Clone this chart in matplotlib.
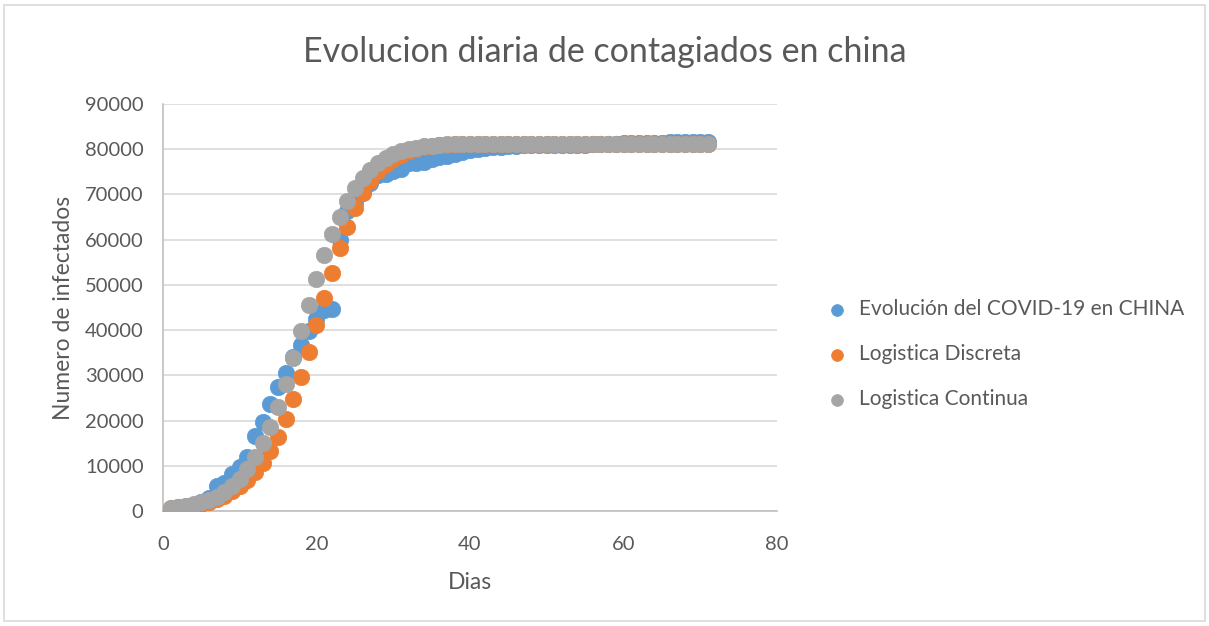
import matplotlib
matplotlib.use("Agg")
import matplotlib.pyplot as plt
from matplotlib.patches import Rectangle

plt.rcParams['font.family'] = ['Lato', 'DejaVu Sans']

dias = list(range(1, 72))

# datos reales China (casos acumulados)
china = [548, 643, 920, 1406, 2075, 2877, 5509, 6087, 8141, 9802,
         11891, 16630, 19716, 23707, 27440, 30587, 34110, 36814, 39829, 42354,
         44386, 44759, 59895, 66358, 68413, 70513, 72434, 74211, 74619, 75077,
         75550, 77001, 77022, 77241, 77754, 78166, 78600, 78928, 79356, 79932,
         80136, 80261, 80386, 80537, 80690, 80770, 80823, 80860, 80887, 80921,
         80932, 80945, 80977, 81003, 81033, 81058, 81102, 81156, 81250, 81300,
         81350, 81390, 81420, 81450, 81470, 81490, 81505, 81520, 81535, 81545, 81555]

# logistica discreta
discreta = [630, 800, 1000, 1300, 1650, 2100, 2700, 3400, 4350, 5500,
            6900, 8600, 10700, 13300, 16400, 20300, 24700, 29700, 35200, 41100,
            47000, 52700, 58100, 62900, 66900, 70300, 73000, 75100, 76700, 77900,
            78800, 79500, 80000, 80400, 80650, 80850, 81000, 81100, 81150, 81180,
            81190, 81200, 81200, 81200, 81200, 81200, 81200, 81200, 81200, 81200,
            81200, 81200, 81200, 81200, 81200, 81200, 81200, 81200, 81200, 81200,
            81200, 81200, 81200, 81200, 81200, 81200, 81200, 81200, 81200, 81200, 81200]

# logistica continua
continua = [650, 850, 1100, 1450, 1900, 2500, 3200, 4200, 5500, 7100,
            9200, 11900, 15000, 18600, 23100, 28100, 33800, 39700, 45600, 51200,
            56500, 61200, 65100, 68600, 71400, 73600, 75500, 77000, 78100, 78900,
            79500, 80000, 80350, 80600, 80800, 80950, 81050, 81100, 81150, 81180,
            81190, 81200, 81200, 81200, 81200, 81200, 81200, 81200, 81200, 81200,
            81200, 81200, 81200, 81200, 81200, 81200, 81200, 81200, 81200, 81200,
            81200, 81200, 81200, 81200, 81200, 81200, 81200, 81200, 81200, 81200, 81200]

azul = '#5B9BD5'
naranja = '#ED7D31'
gris = '#A5A5A5'
texto = '#595959'

fig = plt.figure(figsize=(12.09, 6.26), dpi=100)
ax = fig.add_axes([0.1348, 0.1837, 0.5079, 0.6502])

ax.scatter(dias, china, s=140, color=azul, edgecolors=azul, linewidths=0.5,
           label='Evolución del COVID-19 en CHINA', zorder=3)
ax.scatter(dias, discreta, s=140, color=naranja, edgecolors=naranja, linewidths=0.5,
           label='Logistica Discreta', zorder=4)
ax.scatter(dias, continua, s=140, color=gris, edgecolors=gris, linewidths=0.5,
           label='Logistica Continua', zorder=5)

ax.set_xlim(0, 80)
ax.set_ylim(0, 90000)
ax.set_xticks([0, 20, 40, 60, 80])
ax.set_yticks(range(0, 90001, 10000))
ax.grid(axis='y', color='#D9D9D9', linewidth=1.2)
ax.set_axisbelow(True)
for s in ['top', 'right']:
    ax.spines[s].set_visible(False)
for s in ['left', 'bottom']:
    ax.spines[s].set_color('#BFBFBF')
    ax.spines[s].set_linewidth(1.2)
ax.tick_params(length=0, labelsize=14.5, colors=texto)
ax.tick_params(axis='x', pad=18)
ax.tick_params(axis='y', pad=14)
ax.set_xlabel('Dias', fontsize=16.5, color=texto, labelpad=14)
ax.set_ylabel('Numero de infectados', fontsize=16.5, color=texto, labelpad=8)

fig.text(0.5, 0.917, 'Evolucion diaria de contagiados en china', ha='center', va='center',
         fontsize=24.5, color=texto)

leg = ax.legend(loc='center left', bbox_to_anchor=(1.033, 0.385), frameon=False,
                fontsize=15, labelspacing=1.2, handletextpad=0.05, markerscale=0.72)
for t in leg.get_texts():
    t.set_color(texto)

fig.patches.append(Rectangle((0.003, 0.008), 0.994, 0.984, transform=fig.transFigure,
                             fill=False, edgecolor='#D9D9D9', linewidth=1.2))

fig.savefig('out.png', dpi=100)
